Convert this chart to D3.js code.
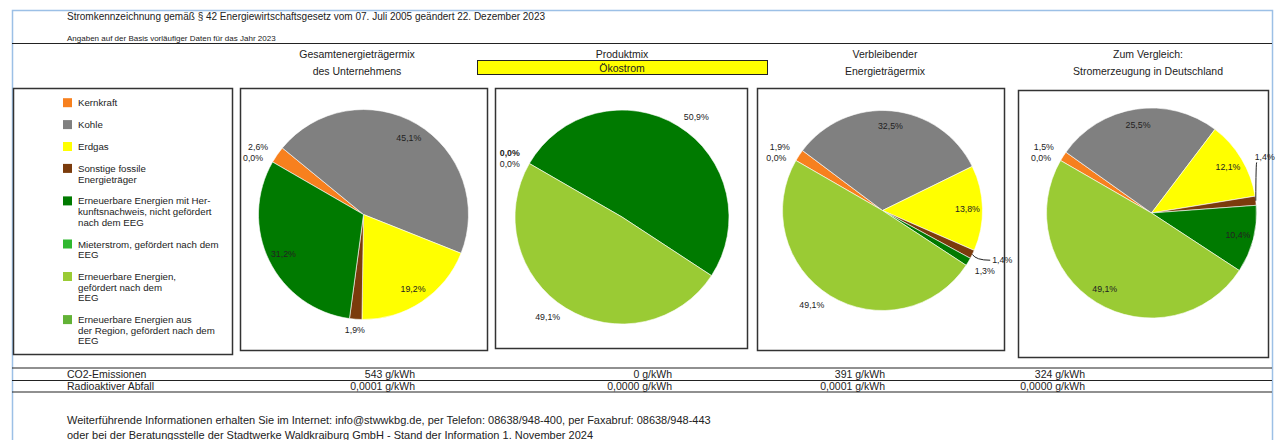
<!DOCTYPE html>
<html lang="de">
<head>
<meta charset="utf-8">
<title>Stromkennzeichnung 2023</title>
<script src="https://cdn.jsdelivr.net/npm/d3@7"></script>
<style>
  html, body { margin: 0; padding: 0; background: #fff; }
  svg { display: block; font-family: "Liberation Sans", Arial, sans-serif; }
</style>
</head>
<body>
<div id="chart"></div>
<script>
// Kategorien der Stromkennzeichnung (Legende, mit Zeilenumbrüchen wie im Original)
const categoryLabels = [
  ["Kernkraft"],
  ["Kohle"],
  ["Erdgas"],
  ["Sonstige fossile", "Energieträger"],
  ["Erneuerbare Energien mit Her-", "kunftsnachweis, nicht gefördert", "nach dem EEG"],
  ["Mieterstrom, gefördert nach dem", "EEG"],
  ["Erneuerbare Energien,", "gefördert nach dem", "EEG"],
  ["Erneuerbare Energien aus", "der Region, gefördert nach dem", "EEG"]
];

// Anteile in Prozent, Reihenfolge wie categoryLabels
const mixUnternehmen = [2.6, 45.1, 19.2, 1.9, 31.2, 0, 0, 0];
const mixOekostrom = [0, 0, 0, 0, 50.9, 0, 49.1, 0];
const mixVerbleibend = [1.9, 32.5, 13.8, 1.4, 1.3, 0, 49.1, 0];
const mixDeutschland = [1.5, 25.5, 12.1, 1.4, 10.4, 0, 49.1, 0];

const panelTitles = [
  ["Gesamtenergieträgermix", "des Unternehmens"],
  ["Produktmix"],
  ["Verbleibender", "Energieträgermix"],
  ["Zum Vergleich:", "Stromerzeugung in Deutschland"]
];
const productName = "Ökostrom";

const rowLabels = ["CO2-Emissionen", "Radioaktiver Abfall"];
const co2Values = [543, 0, 391, 324];
const wasteValues = [0.0001, 0, 0.0001, 0];

const headerLines = [
  "Stromkennzeichnung gemäß § 42 Energiewirtschaftsgesetz vom 07. Juli 2005 geändert 22. Dezember 2023",
  "Angaben auf der Basis vorläufiger Daten für das Jahr 2023"
];
const footerLines = [
  "Weiterführende Informationen erhalten Sie im Internet: info@stwwkbg.de, per Telefon: 08638/948-400, per Faxabruf: 08638/948-443",
  "oder bei der Beratungsstelle der Stadtwerke Waldkraiburg GmbH - Stand der Information 1. November 2024"
];

(() => {
  const colors = ["#f7801e", "#808080", "#ffff00", "#7b3b0c", "#007a00", "#2fb82f", "#9acb34", "#62b236"];
  const labelled = [true, true, true, true, true, false, true, true];
  const textColor = "#222";

  const de = d3.formatLocale({ decimal: ",", thousands: ".", grouping: [3], currency: ["", " €"] });
  const pct = (v) => de.format(".1f")(v) + "%";
  const fmtWaste = (v) => de.format(".4f")(v) + " g/kWh";
  const fmtCo2 = (v) => de.format("d")(v) + " g/kWh";

  const width = 1276;
  const height = 440;
  const titleX = [357, 622, 885, 1148];
  const valueRight = [415, 672, 885, 1085];

  const panels = [
    { data: mixUnternehmen, box: [240, 88, 487, 350], cx: 363.5, cy: 214.5, r: 105, outside: [], nudge: {} },
    { data: mixOekostrom, box: [495, 88, 747, 348], cx: 622, cy: 217, r: 107, outside: [4, 6], nudge: {} },
    { data: mixVerbleibend, box: [757, 88, 1004, 350], cx: 882.5, cy: 210.5, r: 100, outside: [6],
      nudge: { 3: { dx: 10, dy: 1, lx: -2, ly: 0 }, 4: { dx: -3, dy: 3 } } },
    { data: mixDeutschland, box: [1018, 90, 1268, 357], cx: 1151.5, cy: 213, r: 105, outside: [],
      nudge: { 3: { dx: -12, dy: -42, lx: 2, ly: 5 } } }
  ];

  const svg = d3.select("#chart").append("svg")
    .attr("width", width)
    .attr("height", height)
    .attr("viewBox", `0 0 ${width} ${height}`);

  // äußerer Rahmen
  svg.append("rect")
    .attr("x", 12.5).attr("y", 10.5)
    .attr("width", 1260).attr("height", height)
    .attr("fill", "none").attr("stroke", "#9cc0e6").attr("stroke-width", 1.5);

  svg.selectAll(".header").data(headerLines).join("text")
    .attr("class", "header")
    .attr("x", 67)
    .attr("y", (d, i) => (i === 0 ? 16 : 38))
    .attr("dominant-baseline", "central")
    .attr("font-size", (d, i) => (i === 0 ? 10 : 8))
    .attr("fill", textColor)
    .text((d) => d);

  svg.append("line")
    .attr("x1", 12).attr("x2", 1272).attr("y1", 43.5).attr("y2", 43.5)
    .attr("stroke", textColor).attr("stroke-width", 1.2);

  // Spaltenüberschriften
  panelTitles.forEach((lines, p) => {
    svg.append("g").selectAll("text").data(lines).join("text")
      .attr("x", titleX[p])
      .attr("y", (d, i) => 54 + i * 17)
      .attr("text-anchor", "middle")
      .attr("dominant-baseline", "central")
      .attr("font-size", 10.5)
      .attr("fill", textColor)
      .text((d) => d);
  });
  svg.append("rect")
    .attr("x", 477.5).attr("y", 60.5).attr("width", 290).attr("height", 14)
    .attr("fill", "#ffff00").attr("stroke", textColor).attr("stroke-width", 1);
  svg.append("text")
    .attr("x", titleX[1]).attr("y", 67.5)
    .attr("text-anchor", "middle").attr("dominant-baseline", "central")
    .attr("font-size", 10.5).attr("fill", textColor)
    .text(productName);

  // Legende
  svg.append("rect")
    .attr("x", 13.5).attr("y", 88.5).attr("width", 219).attr("height", 266)
    .attr("fill", "none").attr("stroke", "#333").attr("stroke-width", 1.5);
  const lineH = 10.6;
  let ly = 102.7;
  const legendItems = categoryLabels.map((lines, i) => {
    const item = { lines, i, y: ly };
    ly += lines.length * lineH + 11.3;
    return item;
  });
  const legend = svg.append("g").selectAll("g").data(legendItems).join("g");
  legend.append("rect")
    .attr("x", 63).attr("y", (d) => d.y - 4.5)
    .attr("width", 9).attr("height", 9)
    .attr("fill", (d) => colors[d.i]);
  legend.each(function (d) {
    d3.select(this).selectAll("text").data(d.lines).join("text")
      .attr("x", 78)
      .attr("y", (t, j) => d.y + j * lineH)
      .attr("dominant-baseline", "central")
      .attr("font-size", 9.7)
      .attr("fill", textColor)
      .text((t) => t);
  });

  const pie = d3.pie().sort(null).value((d) => d.value)
    .startAngle(-Math.PI / 3).endAngle(5 * Math.PI / 3);

  function spread(items, gap) {
    items.sort((a, b) => (Math.abs(a.y - b.y) > 0.5 ? a.y - b.y : a.mid - b.mid));
    for (let k = 0; k < 40; k++) {
      for (let j = 1; j < items.length; j++) {
        const d = items[j].y - items[j - 1].y;
        if (d < gap) {
          const m = (gap - d) / 2;
          items[j - 1].y -= m;
          items[j].y += m;
        }
      }
    }
  }

  panels.forEach((p) => {
    const [x0, y0, x1, y1] = p.box;
    svg.append("rect")
      .attr("x", x0 + 0.5).attr("y", y0 + 0.5)
      .attr("width", x1 - x0).attr("height", y1 - y0)
      .attr("fill", "none").attr("stroke", "#333").attr("stroke-width", 1.5);

    const arcs = pie(p.data.map((value, i) => ({ value, i })));
    const arc = d3.arc().innerRadius(0).outerRadius(p.r);
    const g = svg.append("g").attr("transform", `translate(${p.cx},${p.cy})`);
    g.selectAll("path").data(arcs.filter((a) => a.data.value > 0)).join("path")
      .attr("d", arc)
      .attr("fill", (a) => colors[a.data.i])
      .attr("stroke", "#fff")
      .attr("stroke-width", 0.6);

    const labels = arcs.filter((a) => labelled[a.data.i]).map((a) => {
      const mid = (a.startAngle + a.endAngle) / 2;
      const inside = a.data.value >= 10 && !p.outside.includes(a.data.i);
      const rr = inside ? p.r * 0.85 : p.r + 11;
      const s = Math.sin(mid);
      return {
        i: a.data.i,
        mid,
        inside,
        x: rr * s,
        y: -rr * Math.cos(mid),
        anchor: inside || Math.abs(s) < 0.15 ? "middle" : s > 0 ? "start" : "end",
        text: pct(a.data.value),
        count: 1
      };
    });

    // gleiche Position + gleicher Text -> nur ein Etikett (mehrfach überlagert = fett)
    const free = labels.filter((l) => !l.inside && !p.nudge[l.i]);
    const groups = Array.from(
      d3.group(free, (l) => `${l.mid.toFixed(5)}|${l.text}`).values(),
      (list) => ({ list, mid: list[0].mid, y: list[0].y, anchor: list[0].anchor })
    );
    d3.group(groups, (gr) => gr.anchor).forEach((items) => spread(items, 11));
    groups.forEach((gr) => {
      gr.list[0].y = gr.y;
      gr.list[0].count = gr.list.length;
      gr.list.slice(1).forEach((l) => { l.hidden = true; });
    });

    labels.forEach((l) => {
      const n = p.nudge[l.i];
      if (!n) return;
      const ex = p.r * Math.sin(l.mid);
      const ey = -p.r * Math.cos(l.mid);
      l.x += n.dx;
      l.y += n.dy;
      if (n.lx === undefined) return;
      g.append("path")
        .attr("d", `M${ex},${ey}Q${ex + (l.x + n.lx - ex) * 0.2},${l.y + n.ly} ${l.x + n.lx},${l.y + n.ly}`)
        .attr("fill", "none").attr("stroke", textColor).attr("stroke-width", 1);
    });

    g.selectAll("text").data(labels.filter((l) => !l.hidden)).join("text")
      .attr("x", (l) => l.x)
      .attr("y", (l) => l.y)
      .attr("text-anchor", (l) => l.anchor)
      .attr("dominant-baseline", "central")
      .attr("font-size", 8.8)
      .attr("font-weight", (l) => (l.count > 2 ? "bold" : null))
      .attr("fill", textColor)
      .text((l) => l.text);
  });

  // Tabelle CO2 / Abfall
  [368, 380.5, 392].forEach((y) => {
    svg.append("line")
      .attr("x1", 12).attr("x2", 1272).attr("y1", y).attr("y2", y)
      .attr("stroke", textColor).attr("stroke-width", 1.2);
  });
  const rows = [co2Values.map(fmtCo2), wasteValues.map(fmtWaste)];
  rows.forEach((vals, r) => {
    const y = 374.3 + r * 11.8;
    svg.append("text")
      .attr("x", 67).attr("y", y).attr("dominant-baseline", "central")
      .attr("font-size", 10.5).attr("fill", textColor)
      .text(rowLabels[r]);
    svg.append("g").selectAll("text").data(vals).join("text")
      .attr("x", (d, i) => valueRight[i])
      .attr("y", y)
      .attr("text-anchor", "end")
      .attr("dominant-baseline", "central")
      .attr("font-size", 10.5)
      .attr("fill", textColor)
      .text((d) => d);
  });

  svg.selectAll(".footer").data(footerLines).join("text")
    .attr("class", "footer")
    .attr("x", 67)
    .attr("y", (d, i) => 420 + i * 15)
    .attr("dominant-baseline", "central")
    .attr("font-size", 11)
    .attr("fill", textColor)
    .text((d) => d);
})();
</script>
</body>
</html>
